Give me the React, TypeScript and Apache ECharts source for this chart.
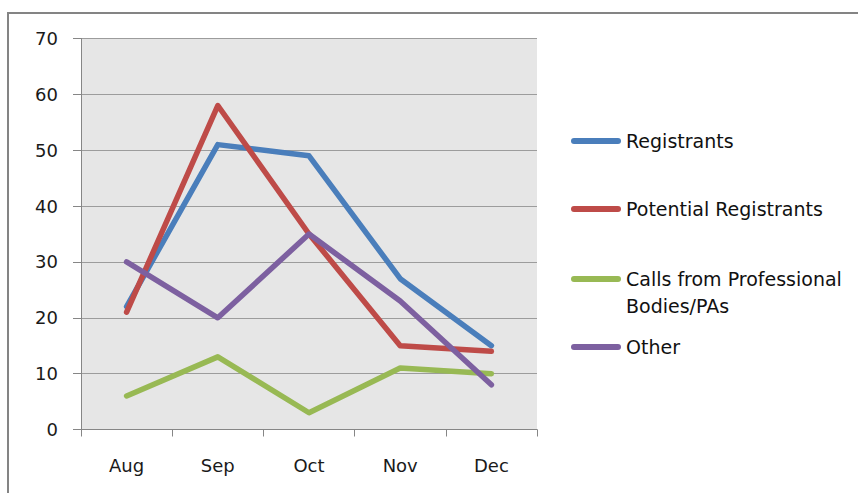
import React, { useEffect, useRef } from "react";
import * as echarts from "echarts";

const categories = ["Aug", "Sep", "Oct", "Nov", "Dec"];
const registrants = [22, 51, 49, 27, 15];
const potentialRegistrants = [21, 58, 35, 15, 14];
const callsProfessional = [6, 13, 3, 11, 10];
const other = [30, 20, 35, 23, 8];

const seriesNames = [
  "Registrants",
  "Potential Registrants",
  "Calls from Professional Bodies/PAs",
  "Other",
];
const seriesData = [registrants, potentialRegistrants, callsProfessional, other];
const colors = ["#4a7ebb", "#be4b48", "#98b954", "#7d60a0"];
const legendCenters = [141, 209, 279, 347];

const FONT = "DejaVu Sans";
const CALLS = "Calls from Professional Bodies/PAs";
const LH = 27;

export default function App() {
  const ref = useRef<HTMLDivElement>(null);
  useEffect(() => {
    if (!ref.current) return;
    const chart = echarts.init(ref.current, undefined, { renderer: "svg" });
    const iconPath =
      "path://M3,0 L47,0 A3,3 0 0 1 47,6 L3,6 A3,3 0 0 1 3,0 Z";
    chart.setOption({
      animation: false,
      backgroundColor: "#ffffff",
      grid: {
        left: 81,
        top: 38.5,
        width: 456,
        height: 391,
        show: true,
        backgroundColor: "#e6e6e6",
        borderWidth: 0,
      },
      xAxis: {
        type: "category",
        data: categories,
        boundaryGap: true,
        axisLine: { show: true, lineStyle: { color: "#868686", width: 1 } },
        axisTick: {
          show: true,
          alignWithLabel: false,
          length: 7,
          lineStyle: { color: "#868686" },
        },
        axisLabel: {
          margin: 27,
          fontFamily: FONT,
          fontSize: 18,
          color: "#1a1a1a",
        },
        splitLine: { show: false },
      },
      yAxis: {
        type: "value",
        min: 0,
        max: 70,
        interval: 10,
        axisLine: { show: true, lineStyle: { color: "#868686", width: 1 } },
        axisTick: { show: true, length: 8, lineStyle: { color: "#868686" } },
        axisLabel: {
          margin: 23,
          fontFamily: FONT,
          fontSize: 18,
          color: "#1a1a1a",
        },
        splitLine: { show: true, lineStyle: { color: "#9c9c9c", width: 1 } },
      },
      legend: seriesNames.map((name, i) => ({
        data: [name],
        orient: "vertical",
        left: 571,
        top: legendCenters[i] - (name === CALLS ? LH * 1.5 : LH / 2),
        itemWidth: 50,
        itemHeight: 6,
        icon: iconPath,
        padding: 0,
        formatter: (n: string) =>
          n === CALLS ? " \nCalls from Professional\nBodies/PAs" : n,
        textStyle: {
          fontFamily: FONT,
          fontSize: 19,
          color: "#111111",
          lineHeight: LH,
        },
        selectedMode: false,
      })),
      series: seriesNames.map((name, i) => ({
        name,
        type: "line",
        data: seriesData[i],
        symbol: "none",
        showSymbol: false,
        lineStyle: { color: colors[i], width: 5.5, cap: "round", join: "round" },
        itemStyle: { color: colors[i] },
      })),
      graphic: [
        {
          type: "line",
          shape: { x1: 7, y1: 13, x2: 858, y2: 13 },
          style: { stroke: "#848484", lineWidth: 2 },
        },
        {
          type: "line",
          shape: { x1: 8, y1: 12, x2: 8, y2: 493 },
          style: { stroke: "#848484", lineWidth: 2 },
        },
      ],
    });
    return () => chart.dispose();
  }, []);
  return (
    <div
      ref={ref}
      style={{ position: "fixed", left: 0, top: 0, width: 858, height: 493 }}
    />
  );
}
